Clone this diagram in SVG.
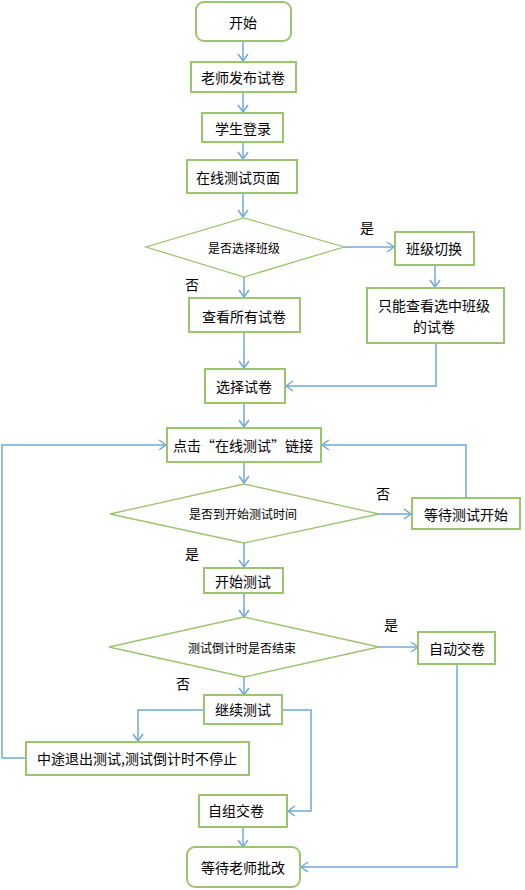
<svg xmlns="http://www.w3.org/2000/svg" width="525" height="890" viewBox="0 0 525 890">
<style>
.n{fill:#fff;stroke:#9BC46F;stroke-width:2}
.d{fill:#fff;stroke:#9BC46F;stroke-width:1.3}
.t{font-family:"Noto Sans CJK SC","Noto Sans",sans-serif;font-size:14px;fill:#000;text-anchor:middle;dominant-baseline:central}
.s{font-size:12px}
.c{fill:none;stroke:#6FA8DC;stroke-width:1.5}
</style>
<defs>
<marker id="a" markerUnits="userSpaceOnUse" markerWidth="12" markerHeight="12" refX="8" refY="6" orient="auto">
<path d="M1,1 L8,6 L1,11" fill="none" stroke="#6FA8DC" stroke-width="1.5"/>
</marker>
</defs>
<rect width="525" height="890" fill="#fff"/>
<g id="connectors">
<path class="c" d="M243,41 V61" marker-end="url(#a)"/>
<path class="c" d="M243,92 V112" marker-end="url(#a)"/>
<path class="c" d="M243,142 V159" marker-end="url(#a)"/>
<path class="c" d="M243,193 V217" marker-end="url(#a)"/>
<path class="c" d="M344,247 H394" marker-end="url(#a)"/>
<path class="c" d="M435,265 V287" marker-end="url(#a)"/>
<path class="c" d="M244,277 V297" marker-end="url(#a)"/>
<path class="c" d="M244,332 V368" marker-end="url(#a)"/>
<path class="c" d="M436,343 V386 H286" marker-end="url(#a)"/>
<path class="c" d="M244,403 V427" marker-end="url(#a)"/>
<path class="c" d="M26,758 H2 V445 H166" marker-end="url(#a)"/>
<path class="c" d="M466,497 V445 H322" marker-end="url(#a)"/>
<path class="c" d="M244,462 V483" marker-end="url(#a)"/>
<path class="c" d="M379,514 H411" marker-end="url(#a)"/>
<path class="c" d="M244,543 V567" marker-end="url(#a)"/>
<path class="c" d="M244,593 V617" marker-end="url(#a)"/>
<path class="c" d="M379,647 H418" marker-end="url(#a)"/>
<path class="c" d="M244,677 V695" marker-end="url(#a)"/>
<path class="c" d="M204,710 H138 V741" marker-end="url(#a)"/>
<path class="c" d="M282,710 H311 V811 H288" marker-end="url(#a)"/>
<path class="c" d="M243,827 V847" marker-end="url(#a)"/>
<path class="c" d="M457,664 V867 H301" marker-end="url(#a)"/>
</g>
<g id="start"><rect class="n" x="196" y="2" width="95" height="39" rx="8"/><text class="t" x="243" y="22">开始</text></g>
<g id="publish"><rect class="n" x="191" y="62" width="105" height="30"/><text class="t" x="243" y="77">老师发布试卷</text></g>
<g id="login"><rect class="n" x="202" y="113" width="81" height="29"/><text class="t" x="243" y="128">学生登录</text></g>
<g id="page"><rect class="n" x="187" y="160" width="110" height="33"/><text class="t" x="238" y="177">在线测试页面</text></g>
<g id="dec1"><polygon class="d" points="244,218 344,247 244,277 146,247"/><text class="t s" x="244" y="247">是否选择班级</text></g>
<g id="switch"><rect class="n" x="395" y="232" width="79" height="33"/><text class="t" x="434" y="248">班级切换</text></g>
<g id="onlyclass"><rect class="n" x="367" y="288" width="137" height="55"/><text class="t" x="434" y="305">只能查看选中班级</text><text class="t" x="434" y="326">的试卷</text></g>
<g id="all"><rect class="n" x="189" y="298" width="111" height="34"/><text class="t" x="244" y="316">查看所有试卷</text></g>
<g id="choose"><rect class="n" x="205" y="369" width="80" height="34"/><text class="t" x="244" y="386">选择试卷</text></g>
<g id="click"><rect class="n" x="167" y="428" width="154" height="34"/><text class="t" x="243" y="445">点击“在线测试”链接</text></g>
<g id="dec2"><polygon class="d" points="244,484 379,514 244,543 110,514"/><text class="t s" x="243" y="513">是否到开始测试时间</text></g>
<g id="wait"><rect class="n" x="412" y="498" width="108" height="31"/><text class="t" x="466" y="514">等待测试开始</text></g>
<g id="begin"><rect class="n" x="204" y="568" width="79" height="25"/><text class="t" x="243" y="581">开始测试</text></g>
<g id="dec3"><polygon class="d" points="244,617 379,647 244,677 109,647"/><text class="t s" x="242" y="647">测试倒计时是否结束</text></g>
<g id="auto"><rect class="n" x="418" y="632" width="77" height="32"/><text class="t" x="457" y="648">自动交卷</text></g>
<g id="continue"><rect class="n" x="204" y="695" width="78" height="29"/><text class="t" x="243" y="709">继续测试</text></g>
<g id="quit"><rect class="n" x="26" y="742" width="223" height="33"/><text class="t" x="137" y="758">中途退出测试,测试倒计时不停止</text></g>
<g id="self"><rect class="n" x="199" y="795" width="88" height="32"/><text class="t" x="236" y="810">自组交卷</text></g>
<g id="grade"><rect class="n" x="187" y="847" width="113" height="40" rx="8"/><text class="t" x="243" y="867">等待老师批改</text></g>
<g id="labels">
<text class="t" x="367" y="227">是</text>
<text class="t" x="192" y="284">否</text>
<text class="t" x="383" y="493">否</text>
<text class="t" x="192" y="553">是</text>
<text class="t" x="391" y="624">是</text>
<text class="t" x="183" y="683">否</text>
</g>
</svg>
